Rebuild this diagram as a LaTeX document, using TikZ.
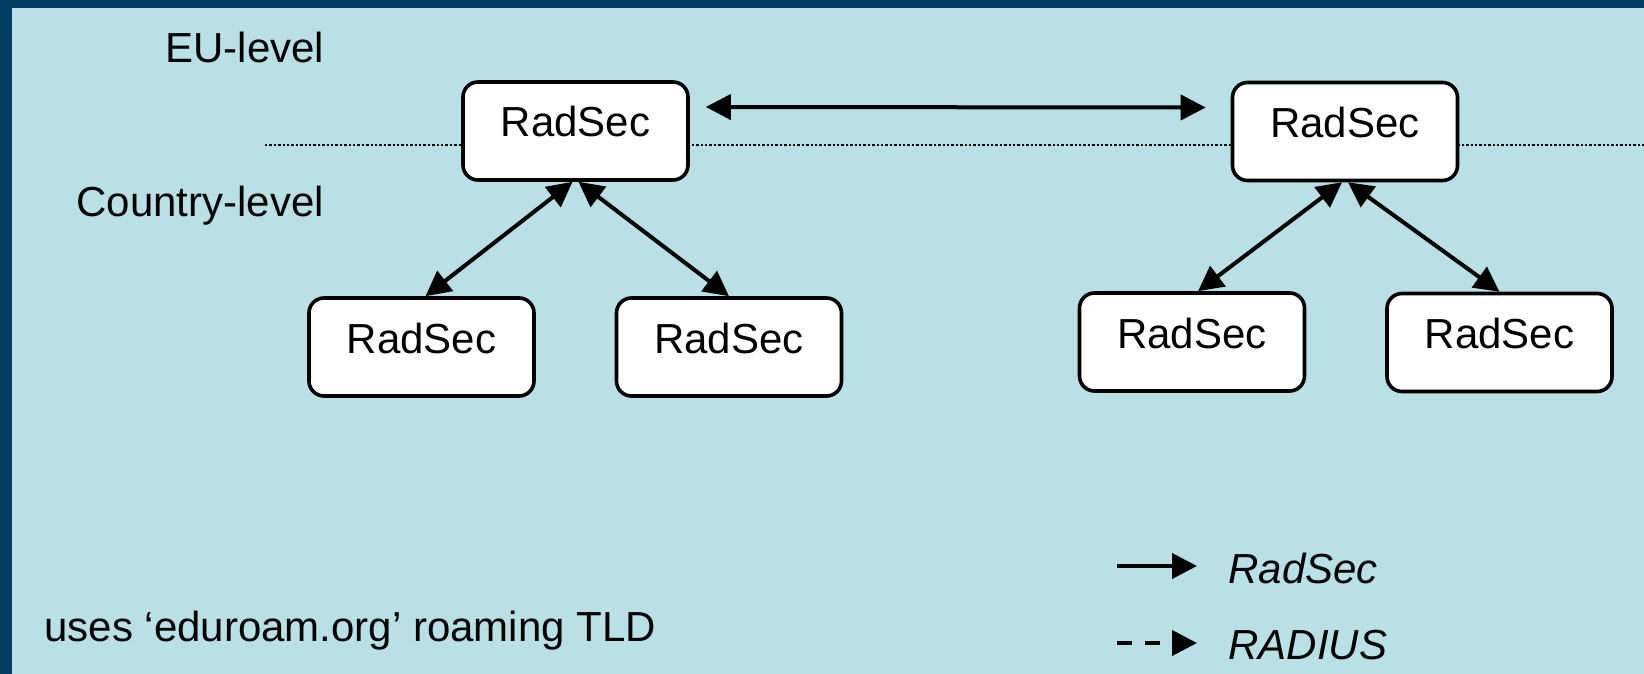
\documentclass[tikz,border=0pt]{standalone}
\usepackage{fontspec}
\setmainfont{Liberation Sans}
\usetikzlibrary{arrows.meta,calc}
\definecolor{pagebg}{RGB}{185,224,228}
\definecolor{frameblue}{RGB}{0,61,98}
\begin{document}
\begin{tikzpicture}[x=0.5pt,y=-0.5pt,
  txt/.style={font=\fontsize{21pt}{25pt}\selectfont},
  server/.style={txt, draw=black, line width=1.8pt, fill=white,
    rounded corners=7.5pt, minimum width=112.5pt, minimum height=49pt,
    inner sep=0pt, text height=16pt, text depth=10pt},
  tag/.style={txt, inner sep=0pt, anchor=base west},
  link/.style={line width=2pt, <->, >={Triangle[length=12.5pt,width=12.5pt]}},
  keyline/.style={line width=2pt, -{Triangle[length=12.5pt,width=12.5pt]}},
  levelline/.style={line width=1.2pt, dash pattern=on 1.2pt off 1pt}
]
\useasboundingbox (0,0) rectangle (1644,674);

% slide background and frame
\fill[pagebg] (0,0) rectangle (1644,674);
\fill[frameblue] (0,0) rectangle (1644,8);
\fill[frameblue] (0,0) rectangle (12,674);

% boundary between the two levels
\coordinate (dl) at (265,145);
\coordinate (dr) at (1644,145);
\draw[levelline] (dl) -- (dr);

% level captions
\node[tag] (eu) at (165,63) {EU-level};
\node[tag] (country) at (76,216) {Country-level};

% servers
\node[server] (tl)  at (575.5,131) {RadSec};
\node[server] (tr)  at (1345,131.5) {RadSec};
\node[server] (bl1) at (421.5,347) {RadSec};
\node[server] (bl2) at (729,347) {RadSec};
\node[server] (br1) at (1192,342) {RadSec};
\node[server] (br2) at (1499.5,342.5) {RadSec};

% links
\draw[link] ([xshift=8pt,yshift=12pt]tl.east) -- ([xshift=-12.5pt,yshift=12pt]tr.west);
\draw[link] ([xshift=-1.5pt]tl.south) -- ([xshift=2pt]bl1.north);
\draw[link] ([xshift=1.5pt]tl.south) -- (bl2.north);
\draw[link] ([xshift=-1.5pt]tr.south) -- ([xshift=3pt]br1.north);
\draw[link] ([xshift=1.5pt]tr.south) -- (br2.north);

% note
\node[tag] (tld) at (44,641) {uses ‘eduroam.org’ roaming TLD};

% legend
\coordinate (ks1) at (1117,566);
\coordinate (ke1) at (1197,566);
\coordinate (ks2) at (1117,643);
\coordinate (ke2) at (1197,643);
\draw[keyline] (ks1) -- (ke1);
\draw[keyline, dash pattern=on 7.5pt off 6.5pt] (ks2) -- (ke2);
\node[tag, font=\fontsize{21pt}{25pt}\selectfont\itshape] (kradsec) at (1228,583) {RadSec};
\node[tag, font=\fontsize{21pt}{25pt}\selectfont\itshape] (kradius) at (1228,659) {RADIUS};
\end{tikzpicture}
\end{document}
